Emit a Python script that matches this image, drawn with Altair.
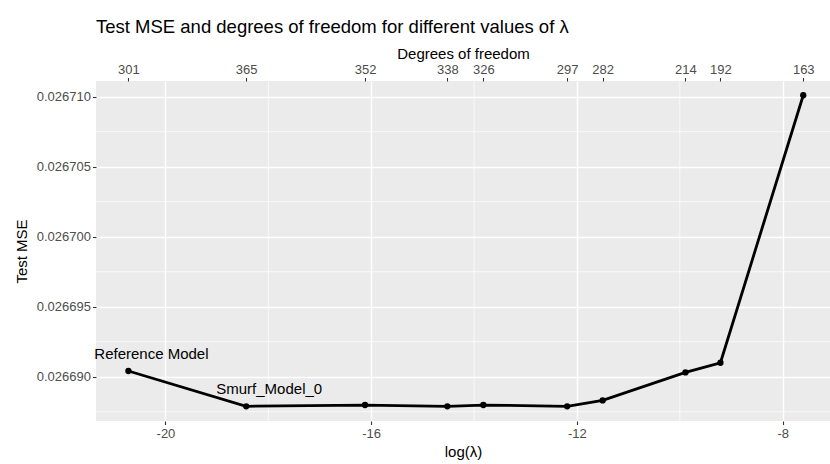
import altair as alt
import pandas as pd

# Tuning path: log(lambda), test MSE and effective degrees of freedom per fit
log_lambda = [-20.72, -18.43, -16.12, -14.52, -13.82, -12.19, -11.50, -9.89, -9.21, -7.60]
test_mse = [0.02669041, 0.02668789, 0.02668798, 0.02668789, 0.02668798,
            0.02668789, 0.02668831, 0.02669031, 0.02669100, 0.02671010]
dof = [301, 365, 352, 338, 326, 297, 282, 214, 192, 163]
model_labels = ["Reference Model", "Smurf_Model_0", "", "", "", "", "", "", "", ""]

# Axis ticks and minor grid positions
x_ticks = [-20, -16, -12, -8]
x_minor = [-18, -14, -10]
y_ticks = [0.026690, 0.026695, 0.026700, 0.026705, 0.026710]
y_minor = [0.0266875, 0.0266925, 0.0266975, 0.0267025, 0.0267075]

FONT = "Liberation Sans"

df = pd.DataFrame({"loglam": log_lambda, "mse": test_mse, "dof": dof, "label": model_labels})

xs = alt.Scale(domain=[-21.35, -7.08], nice=False, zero=False)
ys = alt.Scale(domain=[0.02668684, 0.02671112], nice=False, zero=False)

axis_common = dict(
    labelFont=FONT, titleFont=FONT, labelColor="#4D4D4D", titleColor="#000000",
    labelFontSize=13, titleFontSize=15, titleFontWeight="normal",
    tickColor="#333333", tickSize=3.5, tickWidth=1.1, domain=False,
)

minor_v = alt.Chart(pd.DataFrame({"v": x_minor})).mark_rule(
    color="white", strokeWidth=0.7
).encode(x=alt.X("v:Q", scale=xs, axis=None))

minor_h = alt.Chart(pd.DataFrame({"v": y_minor})).mark_rule(
    color="white", strokeWidth=0.7
).encode(y=alt.Y("v:Q", scale=ys, axis=None))

line = alt.Chart(df).mark_line(color="black", strokeWidth=2.8).encode(
    x=alt.X("loglam:Q", scale=xs, title="log(λ)",
            axis=alt.Axis(values=x_ticks, orient="bottom", grid=True, gridColor="white",
                          gridWidth=1.4, labelPadding=3, titlePadding=4,
                          labelExpr="replace(datum.label, '\u2212', '-')", **axis_common)),
    y=alt.Y("mse:Q", scale=ys, title="Test MSE",
            axis=alt.Axis(values=y_ticks, format=".6f", orient="left", grid=True,
                          gridColor="white", gridWidth=1.4, labelPadding=2, titlePadding=7,
                          **axis_common)),
)

dof_expr = " : ".join(
    f"abs(datum.value - ({v})) < 0.005 ? '{d}'" for v, d in zip(log_lambda, dof)
) + " : ''"

points = alt.Chart(df).mark_circle(color="black", size=40, opacity=1).encode(
    x=alt.X("loglam:Q", scale=xs, title="Degrees of freedom",
            axis=alt.Axis(values=log_lambda, orient="top", grid=False, labelExpr=dof_expr,
                          labelPadding=1, titlePadding=2, **axis_common)),
    y=alt.Y("mse:Q", scale=ys, axis=None),
)

labels = alt.Chart(df).transform_filter("datum.label != ''").mark_text(
    font=FONT, fontSize=15, color="black", dx=23, dy=-17, align="center", baseline="middle"
).encode(
    x=alt.X("loglam:Q", scale=xs, axis=None),
    y=alt.Y("mse:Q", scale=ys, axis=None),
    text="label:N",
)

chart = alt.layer(minor_v, minor_h, line, points, labels).resolve_axis(
    x="independent", y="independent"
).properties(
    width=734,
    height=340,
    padding={"left": 96, "top": 81, "right": 0, "bottom": 43},
    autosize=alt.AutoSizeParams(type="none"),
    background="white",
    title=alt.TitleParams(
        "Test MSE and degrees of freedom for different values of λ",
        anchor="start", frame="group", font=FONT, fontSize=18.5,
        fontWeight="normal", color="black", offset=10,
    ),
).configure_view(fill="#EBEBEB", strokeWidth=0)

chart.save("out.html", embed_options={"renderer": "svg", "actions": False})
